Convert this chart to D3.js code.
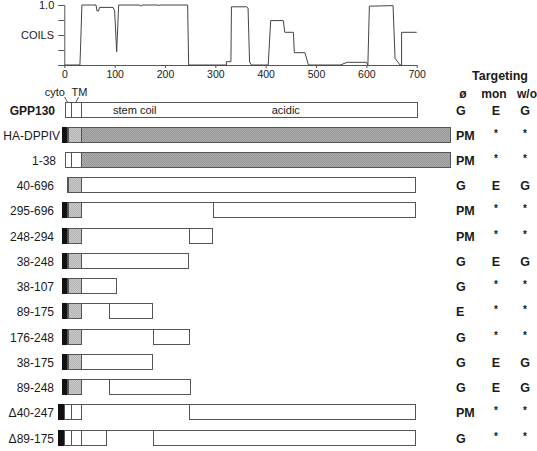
<!DOCTYPE html>
<html><head><meta charset="utf-8">
<script src="https://cdn.jsdelivr.net/npm/d3@7"></script>
<style>body{margin:0;background:#fff}svg{display:block;font-family:"Liberation Sans",Arial,Helvetica,sans-serif}</style>
</head><body><svg id="c" width="537" height="451"></svg>
<script>
// ---- data ----
const coilsAA = [0,31,32,35,63,65,68,70,97,100,104,108,150,152,155,186,188,190,245,247,322,322,331,332,362,365,368,372,405,410,435,438,455,457,478,485,548,562,600,603,606,653,657,667,670,670,700];
const coilsP  = [0,0,0.22,1,1,0.9,0.9,0.96,0.96,0.9,0.22,1,1,0.98,1,1,0.99,1,1,0,0,0.055,0.055,0.97,0.97,0.95,0.05,0,0,0.74,0.74,0.545,0.545,0.205,0.205,0,0,0.045,0.045,0,0.98,0.99,0.11,0,0,0.545,0.545];
const xTicks = [0,100,200,300,400,500,600,700];
const yTicks = [0,0.25,0.5,0.75,1];

const constructs = ["GPP130","HA-DPPIV","1-38","40-696","295-696","248-294","38-248","38-107","89-175","176-248","38-175","89-248","Δ40-247","Δ89-175"];
// segments per construct: [type, startAA, endAA]
const haDppivN = [["black",-5.5,4.5],["dline",4.5,7.5],["lgray",7.5,33]];
const haGppN   = [["black",-12,-1.5],["white",-1.5,13],["white",13,33]];
const segments = [
  [["white",1,13],["white",13,33],["white",33,700]],
  haDppivN.concat([["lum",33,766]]),
  [["white",1,13],["white",13,33],["lum",33,766]],
  [["dline",4.8,7.5],["lgray",7.5,33],["white",33,696]],
  haDppivN.concat([["gap",33,295],["white",295,696]]),
  haDppivN.concat([["gap",33,248],["white",248,294]]),
  haDppivN.concat([["white",33,246]]),
  haDppivN.concat([["white",33,102]]),
  haDppivN.concat([["gap",33,89],["white",89,175]]),
  haDppivN.concat([["gap",33,176],["white",176,248]]),
  haDppivN.concat([["white",33,175]]),
  haDppivN.concat([["gap",33,88],["white",88,250]]),
  haGppN.concat([["gap",33,247],["white",247,696]]),
  haGppN.concat([["white",33,83],["gap",83,176],["white",176,696]])
];
const domainLabels = [["cyto",7],["TM",23],["stem coil",140],["acidic",440]];
const targetHeaders = ["ø","mon","w/o"];
const targetNone = ["G","PM","PM","G","PM","PM","G","G","E","G","G","G","PM","G"];
const targetMon  = ["E","*","*","E","*","*","E","*","*","*","E","E","*","*"];
const targetWo   = ["G","*","*","G","*","*","G","*","*","*","G","G","*","*"];

// ---- drawing ----
const svg = d3.select("#c");
const ink = "#1a1a1a", lineC = "#555";
const x = d3.scaleLinear().domain([0,700]).range([64.3,416.7]);
const yc = d3.scaleLinear().domain([0,1]).range([65,5]);

const defs = svg.append("defs");
function stipple(id,a,b){
  const p = defs.append("pattern").attr("id",id).attr("width",2).attr("height",2).attr("patternUnits","userSpaceOnUse");
  p.append("rect").attr("width",2).attr("height",2).attr("fill",a);
  p.append("rect").attr("width",1).attr("height",1).attr("fill",b);
  p.append("rect").attr("x",1).attr("y",1).attr("width",1).attr("height",1).attr("fill",b);
}
stipple("lum","#acacac","#979797");
stipple("lgr","#cbcbcb","#b3b3b3");

// COILS plot
const gTop = svg.append("g");
gTop.append("g").attr("transform",`translate(${x(0)},0)`)
  .call(d3.axisLeft(yc).tickValues(yTicks).tickSize(6).tickPadding(4).tickFormat(d=>d===1?"1.0":""))
  .call(g=>{g.selectAll("path,line").attr("stroke",lineC);g.selectAll("text").attr("font-size",11).attr("fill",ink).attr("font-family","inherit");});
gTop.append("g").attr("transform",`translate(0,${yc(0)})`)
  .call(d3.axisBottom(x).tickValues(xTicks).tickSize(3).tickPadding(3).tickSizeOuter(0))
  .call(g=>{g.selectAll("path,line").attr("stroke",lineC);g.selectAll("text").attr("font-size",10.5).attr("fill",ink).attr("font-family","inherit");});
gTop.append("text").attr("x",54).attr("y",yc(0.5)+4).attr("text-anchor","end").attr("font-size",11).attr("fill",ink).text("COILS");
gTop.append("path").datum(coilsAA.map((a,i)=>[a,coilsP[i]]))
  .attr("d",d3.line().x(d=>x(d[0])).y(d=>yc(d[1])))
  .attr("fill","none").attr("stroke","#444").attr("stroke-width",1);

// construct rows
const yRow = d3.scalePoint().domain(constructs).range([109.5,437.5]);
const h = 15;
const labelRight = i => i===0?55:i===1?60:i===2?56:54;
const rows = svg.append("g").selectAll("g").data(constructs).join("g")
  .attr("transform",d=>`translate(0,${Math.round(yRow(d))})`);
rows.append("text").attr("x",(d,i)=>labelRight(i)).attr("y",4.5).attr("text-anchor","end")
  .attr("font-size",12).attr("font-weight",(d,i)=>i===0?"bold":"normal").attr("fill",ink).text(d=>d);
rows.each(function(d,i){
  const g = d3.select(this);
  segments[i].forEach(([t,a,b])=>{
    const x0 = Math.round(x(a))+0.5, x1 = Math.round(x(b))+0.5;
    if(t==="gap"){
      g.append("line").attr("x1",x0).attr("x2",x1).attr("y1",-7.5).attr("y2",-7.5).attr("stroke",lineC);
      return;
    }
    const fill = t==="white"?"#fff":t==="black"?"#111":t==="dline"?"#6e6e6e":t==="lgray"?"url(#lgr)":"url(#lum)";
    g.append("rect").attr("x",x0).attr("y",-7.5).attr("width",x1-x0).attr("height",h)
      .attr("fill",fill).attr("stroke",t==="black"?"#111":lineC).attr("stroke-width",1);
  });
});

// domain annotations on GPP130
const y0 = Math.round(yRow("GPP130"));
svg.append("text").attr("x",65).attr("y",95.5).attr("text-anchor","end").attr("font-size",11).attr("fill",ink).text(domainLabels[0][0]);
svg.append("text").attr("x",71.5).attr("y",95.5).attr("font-size",11).attr("fill",ink).text(domainLabels[1][0]);
svg.append("line").attr("x1",64.5).attr("y1",97).attr("x2",x(domainLabels[0][1])).attr("y2",y0-7.5).attr("stroke",lineC);
svg.append("line").attr("x1",78.5).attr("y1",97).attr("x2",x(domainLabels[1][1])).attr("y2",y0-7.5).attr("stroke",lineC);
svg.append("text").attr("x",x(domainLabels[2][1])).attr("y",y0+4).attr("text-anchor","middle").attr("font-size",11).attr("fill",ink).text(domainLabels[2][0]);
svg.append("text").attr("x",x(domainLabels[3][1])).attr("y",y0+4).attr("text-anchor","middle").attr("font-size",11).attr("fill",ink).text(domainLabels[3][0]);

// targeting table
const colX = [456,496,525];
svg.append("text").attr("x",500).attr("y",80).attr("text-anchor","middle").attr("font-size",12.5).attr("font-weight","bold").attr("fill",ink).text("Targeting");
const hdrX = [463,494,527];
targetHeaders.forEach((t,i)=>svg.append("text").attr("x",hdrX[i]).attr("y",97.5).attr("text-anchor","middle").attr("font-size",12).attr("font-weight","bold").attr("fill",ink).text(t));
const cols = [targetNone,targetMon,targetWo];
cols.forEach((arr,ci)=>{
  svg.append("g").selectAll("text").data(arr).join("text")
    .attr("x",colX[ci]).attr("y",(d,i)=>Math.round(yRow(constructs[i]))+(d==="*"?2:4.5))
    .attr("text-anchor",ci===0?"start":"middle")
    .attr("font-size",d=>d==="*"?10:12.5).attr("font-weight","bold").attr("fill",ink).text(d=>d);
});
</script></body></html>
